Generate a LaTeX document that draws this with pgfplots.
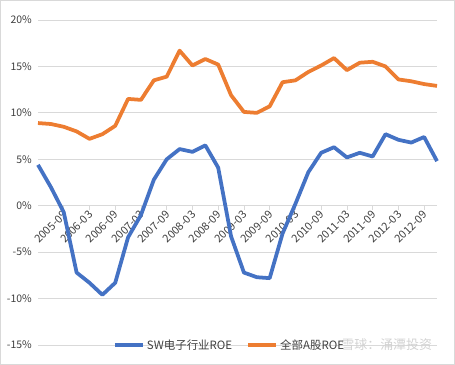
\documentclass[border=0pt]{standalone}
\usepackage{fontspec}
\setmainfont{Noto Sans CJK SC}
\usepackage{pgfplots}
\pgfplotsset{compat=1.18}
\definecolor{sw}{HTML}{4472C4}
\definecolor{ab}{HTML}{ED7D31}
\definecolor{gridc}{HTML}{D9D9D9}
\definecolor{txt}{HTML}{404040}
\begin{document}
\begin{tikzpicture}
\begin{axis}[
  name=ax,
  scale only axis, width=399bp, height=325bp,
  xmin=0, xmax=31, ymin=-15, ymax=20,
  ytick={-15,-10,...,20},
  yticklabel={\pgfmathprintnumber{\tick}\%},
  /pgf/number format/assume math mode=true,
  xtick={0,2,...,30},
  xticklabels={2005-03,2005-09,2006-03,2006-09,2007-03,2007-09,2008-03,2008-09,2009-03,2009-09,2010-03,2010-09,2011-03,2011-09,2012-03,2012-09},
  axis x line*=middle, axis y line*=left,
  axis line style={draw=none},
  ymajorgrids, grid style={color=gridc, line width=0.75bp},
  xtick align=outside,
  major tick length=4bp,
  xtick style={color=gridc, line width=0.75bp},
  ytick style={draw=none},
  yticklabel style={font=\fontsize{10.5}{12}\selectfont, text=txt, anchor=east, inner sep=1bp, xshift=-5bp},
  xticklabel style={font=\fontsize{11}{12}\selectfont, text=txt, rotate=45, anchor=east, inner sep=1bp, yshift=-3bp},
  legend style={at={(axis description cs:0.48,0)}, anchor=center, draw=none, fill=none,
    font=\fontsize{11.5}{13}\selectfont, text=txt,
    legend columns=2, /tikz/every even column/.append style={column sep=12bp}},
  legend image code/.code={\draw[#1, line width=4bp] (0bp,0bp) -- (28bp,0bp);},
  clip=false,
]
\addplot[color=sw, line width=3.75bp, line join=round] coordinates {
(0,4.4)(1,2.0)(2,-0.7)(3,-7.2)(4,-8.3)(5,-9.6)(6,-8.3)(7,-3.4)(8,-1.0)(9,2.8)
(10,5.0)(11,6.1)(12,5.8)(13,6.5)(14,4.1)(15,-3.3)(16,-7.2)(17,-7.7)(18,-7.8)(19,-3.0)
(20,0.2)(21,3.6)(22,5.7)(23,6.3)(24,5.2)(25,5.7)(26,5.3)(27,7.7)(28,7.1)(29,6.8)
(30,7.4)(31,4.8)};
\addlegendentry{SW电子行业ROE}
\addplot[color=ab, line width=3.75bp, line join=round] coordinates {
(0,8.9)(1,8.8)(2,8.5)(3,8.0)(4,7.2)(5,7.7)(6,8.6)(7,11.5)(8,11.4)(9,13.5)
(10,13.9)(11,16.7)(12,15.1)(13,15.8)(14,15.2)(15,11.9)(16,10.1)(17,10.0)(18,10.7)(19,13.3)
(20,13.5)(21,14.4)(22,15.1)(23,15.9)(24,14.6)(25,15.4)(26,15.5)(27,15.0)(28,13.6)(29,13.4)
(30,13.1)(31,12.9)};
\addlegendentry{全部A股ROE}
\node[anchor=west, text=gray!35, font=\fontsize{13}{13}\selectfont] at (axis cs:23.3,-15) {雪球：涌潭投资};
\end{axis}
\draw[color=gridc, line width=1bp] ([xshift=-37.5bp,yshift=-19.5bp]ax.south west) rectangle ([xshift=17.5bp,yshift=19.5bp]ax.north east);
\end{tikzpicture}
\end{document}
